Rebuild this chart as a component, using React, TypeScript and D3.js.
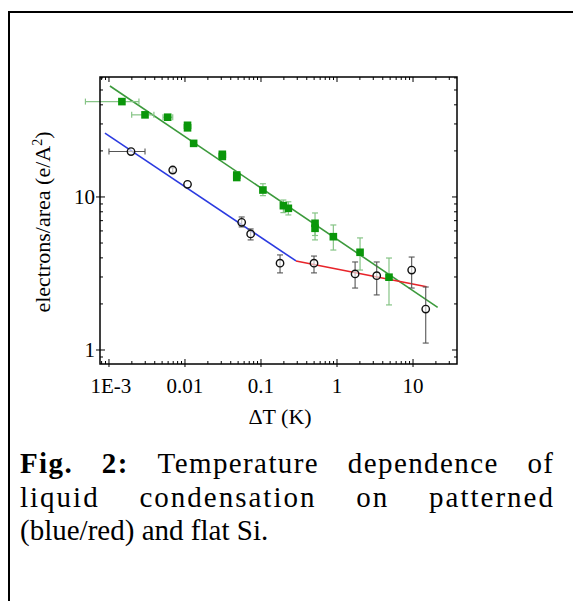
import React, { useRef, useEffect } from "react";
import * as d3 from "d3";

// flat Si (green squares)
const flatT = [0.00148, 0.00298, 0.00592, 0.0108, 0.0108, 0.013, 0.031, 0.031, 0.048, 0.048, 0.106, 0.197, 0.229, 0.514, 0.514, 0.895, 2.01, 4.83];
const flatN = [42, 34.4, 33.2, 29.4, 28.3, 22.4, 19.0, 18.4, 13.9, 13.4, 11.1, 8.77, 8.43, 6.73, 6.24, 5.5, 4.35, 2.99];
const flatTLo = [0.00049, 0.00199, 0.00514, NaN, NaN, NaN, NaN, NaN, NaN, NaN, NaN, NaN, NaN, NaN, NaN, NaN, NaN, NaN];
const flatTHi = [0.00248, 0.0039, 0.0069, NaN, NaN, NaN, NaN, NaN, NaN, NaN, NaN, NaN, NaN, NaN, NaN, NaN, NaN, NaN];
const flatNLo = [NaN, NaN, NaN, NaN, NaN, NaN, 18.0, 17.8, 12.9, 12.9, 10.2, 7.9, 7.63, 5.6, 5.24, 4.5, 3.33, 1.97];
const flatNHi = [NaN, NaN, NaN, NaN, NaN, NaN, 19.8, 19.2, 14.6, 14.2, 12.2, 9.55, 9.3, 7.86, 7.0, 6.56, 5.4, 3.99];

// patterned Si (open circles)
const patT = [0.00195, 0.0069, 0.0108, 0.0557, 0.0731, 0.178, 0.498, 1.73, 3.33, 9.6, 14.7];
const patN = [19.8, 15.0, 12.1, 6.83, 5.73, 3.69, 3.69, 3.14, 3.06, 3.33, 1.85];
const patTLo = [0.001, NaN, NaN, NaN, NaN, NaN, NaN, NaN, NaN, NaN, NaN];
const patTHi = [0.00298, NaN, NaN, NaN, NaN, NaN, NaN, NaN, NaN, NaN, NaN];
const patNLo = [NaN, 14.5, NaN, 6.37, 5.24, 3.19, 3.19, 2.54, 2.29, 2.54, 1.11];
const patNHi = [NaN, 15.5, NaN, 7.4, 6.18, 4.18, 4.11, 3.76, 3.76, 4.05, 2.58];

// fitted power-law lines
const greenFitT = [0.00103, 21.1];
const greenFitN = [53.1, 1.9];
const blueFitT = [0.000885, 0.289];
const blueFitN = [26.1, 3.82];
const redFitT = [0.289, 15.1];
const redFitN = [3.82, 2.59];

const xTickValues = [0.001, 0.01, 0.1, 1, 10];
const xTickLabels = ["1E-3", "0.01", "0.1", "1", "10"];
const yTickValues = [1, 10];
const yTickLabels = ["1", "10"];

const captionLines = [
  ["Fig.", "2:", "Temperature", "dependence", "of"],
  ["liquid", "condensation", "on", "patterned"],
  ["(blue/red)", "and", "flat", "Si."],
];
const captionSpacing = [1.4, 2, 0];

const serif = "'Liberation Serif', 'DejaVu Serif', serif";

export default function App() {
  const captionRef = useRef<SVGGElement>(null);

  const x = d3.scaleLog().domain([7.62e-4, 37.9]).range([100, 457]);
  const y = d3.scaleLog().domain([0.81, 60.8]).range([364, 77]);
  const [x0, x1] = x.range();
  const [y0, y1] = y.range();

  const isMajor = (v: number) => Math.abs(Math.log10(v) - Math.round(Math.log10(v))) < 1e-6;
  const xTicks = x.ticks();
  const yTicks = y.ticks();

  const line = d3
    .line<[number, number]>()
    .x((d) => x(d[0]))
    .y((d) => y(d[1]));
  const fit = (ts: number[], ns: number[]) => line(ts.map((t, i) => [t, ns[i]] as [number, number])) || "";

  useEffect(() => {
    // justified caption: spread words across the line width
    const g = d3.select(captionRef.current);
    g.selectAll("*").remove();
    const left = 20;
    const right = 553;
    captionLines.forEach((words, li) => {
      const yPos = 473 + li * 33.5;
      const ls = captionSpacing[li];
      const nodes = words.map((w, wi) =>
        g
          .append("text")
          .attr("y", yPos)
          .attr("font-family", serif)
          .attr("font-size", 29)
          .attr("letter-spacing", ls)
          .attr("font-weight", li === 0 && wi < 2 ? "bold" : "normal")
          .attr("fill", "#000")
          .text(w)
      );
      const widths = nodes.map((n) => (n.node() as SVGTextElement).getComputedTextLength() - ls);
      const total = d3.sum(widths);
      const last = li === captionLines.length - 1;
      const gap = last ? 7.3 : (right - left - total) / (words.length - 1);
      let cx = left;
      nodes.forEach((n, i) => {
        n.attr("x", cx);
        cx += widths[i] + gap;
      });
    });
  }, []);

  return (
    <svg width={573} height={601} style={{ position: "absolute", left: 0, top: 0, background: "#fff" }}>
      <rect x={9} y={12} width={700} height={700} fill="none" stroke="#000" strokeWidth={2} />

      {/* fits */}
      <path d={fit(greenFitT, greenFitN)} stroke="#3c9a3c" strokeWidth={1.6} fill="none" />
      <path d={fit(blueFitT, blueFitN)} stroke="#2b3ae0" strokeWidth={1.6} fill="none" />
      <path d={fit(redFitT, redFitN)} stroke="#e8242a" strokeWidth={1.6} fill="none" />

      {/* flat Si error bars */}
      <g stroke="#86c486" strokeWidth={1.2}>
        {flatT.map((t, i) => (
          <g key={"fe" + i}>
            {!isNaN(flatTLo[i]) && (
              <>
                <line x1={x(flatTLo[i])} x2={x(flatTHi[i])} y1={y(flatN[i])} y2={y(flatN[i])} />
                <line x1={x(flatTLo[i])} x2={x(flatTLo[i])} y1={y(flatN[i]) - 3} y2={y(flatN[i]) + 3} />
                <line x1={x(flatTHi[i])} x2={x(flatTHi[i])} y1={y(flatN[i]) - 3} y2={y(flatN[i]) + 3} />
              </>
            )}
            {!isNaN(flatNLo[i]) && (
              <>
                <line x1={x(t)} x2={x(t)} y1={y(flatNLo[i])} y2={y(flatNHi[i])} />
                <line x1={x(t) - 3} x2={x(t) + 3} y1={y(flatNLo[i])} y2={y(flatNLo[i])} />
                <line x1={x(t) - 3} x2={x(t) + 3} y1={y(flatNHi[i])} y2={y(flatNHi[i])} />
              </>
            )}
          </g>
        ))}
      </g>

      {/* patterned Si error bars */}
      <g stroke="#555" strokeWidth={1.1}>
        {patT.map((t, i) => (
          <g key={"pe" + i}>
            {!isNaN(patTLo[i]) && (
              <>
                <line x1={x(patTLo[i])} x2={x(patTHi[i])} y1={y(patN[i])} y2={y(patN[i])} />
                <line x1={x(patTLo[i])} x2={x(patTLo[i])} y1={y(patN[i]) - 3} y2={y(patN[i]) + 3} />
                <line x1={x(patTHi[i])} x2={x(patTHi[i])} y1={y(patN[i]) - 3} y2={y(patN[i]) + 3} />
              </>
            )}
            {!isNaN(patNLo[i]) && (
              <>
                <line x1={x(t)} x2={x(t)} y1={y(patNLo[i])} y2={y(patNHi[i])} />
                <line x1={x(t) - 3} x2={x(t) + 3} y1={y(patNLo[i])} y2={y(patNLo[i])} />
                <line x1={x(t) - 3} x2={x(t) + 3} y1={y(patNHi[i])} y2={y(patNHi[i])} />
              </>
            )}
          </g>
        ))}
      </g>

      {/* flat Si markers */}
      {flatT.map((t, i) => (
        <rect key={"fm" + i} x={x(t) - 3.8} y={y(flatN[i]) - 3.8} width={7.6} height={7.6} fill="#0a960a" />
      ))}

      {/* patterned Si markers */}
      {patT.map((t, i) => (
        <circle key={"pm" + i} cx={x(t)} cy={y(patN[i])} r={3.7} fill="#fff" fillOpacity={0.6} stroke="#111" strokeWidth={1.4} />
      ))}

      {/* frame */}
      <rect x={x0} y={y1} width={x1 - x0} height={y0 - y1} fill="none" stroke="#000" strokeWidth={1.5} />

      {/* x ticks (bottom and top, inward) */}
      {xTicks.map((v, i) => {
        const len = isMajor(v) ? 5 : 3;
        return (
          <g key={"xt" + i} stroke="#000" strokeWidth={1}>
            <line x1={x(v)} x2={x(v)} y1={y0} y2={y0 - len} />
            <line x1={x(v)} x2={x(v)} y1={y0} y2={y0 + (isMajor(v) ? 3 : 0)} />
            <line x1={x(v)} x2={x(v)} y1={y1} y2={y1 + len} />
          </g>
        );
      })}
      {/* y ticks (left and right) */}
      {yTicks.map((v, i) => {
        const len = isMajor(v) ? 5 : 3;
        return (
          <g key={"yt" + i} stroke="#000" strokeWidth={1}>
            <line x1={x0} x2={x0 + len} y1={y(v)} y2={y(v)} />
            {isMajor(v) && <line x1={x0 - 4} x2={x0} y1={y(v)} y2={y(v)} />}
            <line x1={x1} x2={x1 - len} y1={y(v)} y2={y(v)} />
          </g>
        );
      })}

      {/* tick labels */}
      <g fontFamily={serif} fontSize={21} fill="#000">
        {xTickValues.map((v, i) => (
          <text key={"xl" + i} x={x(v) + (i === 0 ? 2 : 0)} y={y0 + 29} textAnchor="middle">
            {xTickLabels[i]}
          </text>
        ))}
        {yTickValues.map((v, i) => (
          <text key={"yl" + i} x={x0 - 5} y={y(v) + 7} textAnchor="end">
            {yTickLabels[i]}
          </text>
        ))}
      </g>

      {/* axis titles */}
      <text x={280} y={424} textAnchor="middle" fontFamily={serif} fontSize={22} fill="#000">
        ΔT (K)
      </text>
      <text
        transform="translate(50,222) rotate(-90)"
        textAnchor="middle"
        fontFamily={serif}
        fontSize={22}
        fill="#000"
      >
        electrons/area  (e/A<tspan dy={-8} fontSize={14}>2</tspan>
        <tspan dy={8}>)</tspan>
      </text>

      <g ref={captionRef} />
    </svg>
  );
}
